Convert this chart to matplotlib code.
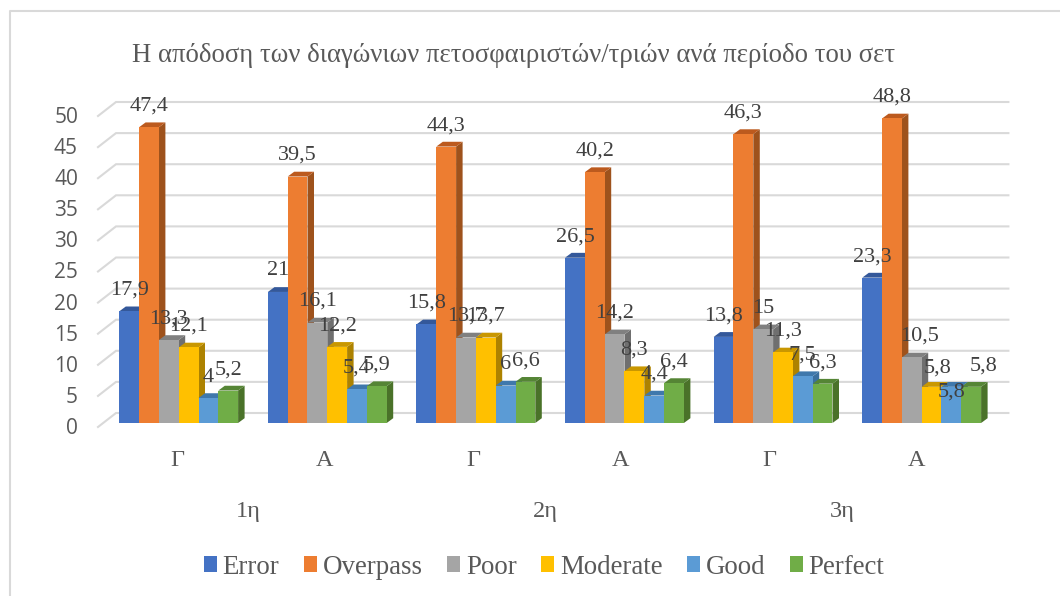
import matplotlib
matplotlib.use("Agg")
import numpy as np
import matplotlib.pyplot as plt
from matplotlib.patches import Polygon, Rectangle
from matplotlib.lines import Line2D

# Dados do grafico
titulo = "Η απόδοση των διαγώνιων πετοσφαιριστών/τριών ανά περίοδο του σετ"
grupos = ["Γ", "Α", "Γ", "Α", "Γ", "Α"]
periodos = ["1η", "2η", "3η"]
series = ["Error", "Overpass", "Poor", "Moderate", "Good", "Perfect"]
error = [17.9, 21, 15.8, 26.5, 13.8, 23.3]
overpass = [47.4, 39.5, 44.3, 40.2, 46.3, 48.8]
poor = [13.3, 16.1, 13.7, 14.2, 15, 10.5]
moderate = [12.1, 12.2, 13.7, 8.3, 11.3, 5.8]
good = [4, 5.4, 6, 4.4, 7.5, 5.8]
perfect = [5.2, 5.9, 6.6, 6.4, 6.3, 5.8]
valores = [error, overpass, poor, moderate, good, perfect]
yticks = [0, 5, 10, 15, 20, 25, 30, 35, 40, 45, 50]

cores = ["#4472C4", "#ED7D31", "#A5A5A5", "#FFC000", "#5B9BD5", "#70AD47"]
cores_lado = ["#2F5597", "#9E521C", "#6F6F6F", "#AD8200", "#3B6F9F", "#4A7229"]
cores_topo = ["#34589A", "#BC5A1E", "#808080", "#C99700", "#3F78AC", "#558535"]

# Escala em pixels da figura
W, H = 1060, 596
PX_GRUPO = 148.6
PX_UNID = 6.24
Y0 = 423
X_ESQ = 104.4
X_DIR = X_ESQ + 6 * PX_GRUPO
Y_TOPO = 40

plt.rcParams["font.family"] = ["Liberation Serif", "DejaVu Sans"]
fig = plt.figure(figsize=(W / 100, H / 100), dpi=100)
ax = fig.add_axes([X_ESQ / W, 1 - Y0 / H, (X_DIR - X_ESQ) / W, (Y0 - Y_TOPO) / H])
ax.set_xlim(-0.5, 5.5)
ax.set_ylim(0, (Y0 - Y_TOPO) / PX_UNID)
ax.axis("off")

px_x = 1 / PX_GRUPO
px_y = 1 / PX_UNID
largura = 19.8 * px_x
prof_x = 6.5 * px_x
prof_y = 4.8 * px_y
cinza = "#D9D9D9"

# Grade (parede do fundo e piso)
esq_fundo = -0.5 + 11.6 * px_x
dir_fundo = 5.5 + 12.4 * px_x
esq_frente = -0.5 - 6.4 * px_x
for v in yticks:
    yb = v * (6.22 / PX_UNID) + 10 * px_y
    ax.plot([esq_frente, esq_fundo, dir_fundo], [yb - 14 * px_y, yb, yb],
            color=cinza, lw=1.5, clip_on=False, zorder=1, solid_joinstyle="miter")

# Barras com profundidade
for g in range(len(grupos)):
    for s in range(len(series)):
        v = valores[s][g]
        x0 = g + (s - 3) * largura
        z = 3 + s
        ax.add_patch(Polygon([(x0 + largura, 0), (x0 + largura + prof_x, prof_y),
                              (x0 + largura + prof_x, v + prof_y), (x0 + largura, v)],
                             facecolor=cores_lado[s], edgecolor="none", zorder=z, clip_on=False))
        ax.add_patch(Polygon([(x0, v), (x0 + prof_x, v + prof_y),
                              (x0 + largura + prof_x, v + prof_y), (x0 + largura, v)],
                             facecolor=cores_topo[s], edgecolor="none", zorder=z, clip_on=False))
        ax.add_patch(Rectangle((x0, 0), largura, v, facecolor=cores[s],
                               edgecolor="none", zorder=z + 0.5, clip_on=False))

# Rotulos de dados (alguns foram deslocados a mao no original)
ajustes = {(5, 2): (8, 0), (5, 3): (6, -2), (5, 4): (0, -26), (5, 5): (12, 0)}
for g in range(len(grupos)):
    for s in range(len(series)):
        v = valores[s][g]
        x0 = g + (s - 3) * largura + largura / 2
        dx, dy = ajustes.get((g, s), (0, 0))
        ax.text(x0 + dx * px_x, v + (21 + dy) * px_y, f"{v:g}".replace(".", ","),
                ha="center", va="center", fontsize=16, color="#404040", zorder=20, clip_on=False)

# Eixo Y
for v in yticks:
    fig.text(78 / W, 1 - (428.5 - 6.22 * v) / H, str(v), ha="right", va="center",
             fontsize=15, family=["Open Sans", "DejaVu Sans"], color="#595959")

# Categorias
for g, nome in enumerate(grupos):
    fig.text((177 + 148 * g) / W, 1 - 461 / H, nome, ha="center", va="center",
             fontsize=17.5, color="#595959")
for p, nome in enumerate(periodos):
    fig.text((248 + 297 * p) / W, 1 - 511 / H, nome, ha="center", va="center",
             fontsize=17.5, color="#595959")

fig.text(514 / W, 1 - 56 / H, titulo, ha="center", va="center", fontsize=19.3, color="#595959")

# Legenda
handles = [Rectangle((0, 0), 1, 1, facecolor=c, edgecolor="none") for c in cores]
leg = fig.legend(handles, series, loc="center", bbox_to_anchor=(544 / W, 1 - 567 / H), ncol=6,
                 frameon=False, fontsize=19.4, handlelength=0.5, handleheight=0.5,
                 handletextpad=0.2, columnspacing=0.905, labelcolor="#595959")

# Moldura (so topo e esquerda aparecem)
fig.add_artist(Line2D([9.5 / W, 9.5 / W, 1], [0, 1 - 11 / H, 1 - 11 / H], color=cinza, lw=1.5))

fig.savefig("out.png", dpi=100)
